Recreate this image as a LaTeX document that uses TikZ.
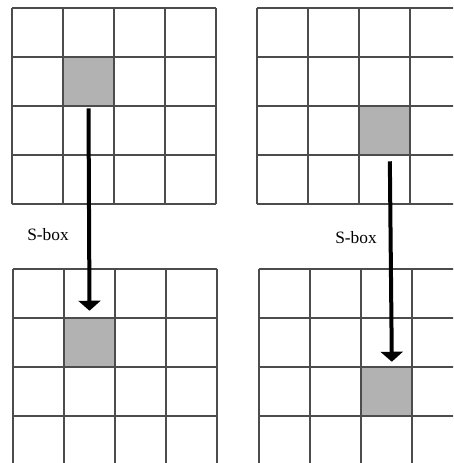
\documentclass[tikz,border=0pt]{standalone}
\usepackage{fontspec}
\setmainfont{Liberation Serif}
\usetikzlibrary{arrows.meta,positioning}
\colorlet{gridgray}{black!70}
\colorlet{cellgray}{gray!60}

\begin{document}
\begin{tikzpicture}[x=0.75pt,y=-0.75pt,
  gridline/.style={draw=gridgray,line width=1.1pt},
  hotcell/.style={fill=cellgray,inner sep=0pt,minimum width=38.25pt,minimum height=36.75pt},
  flow/.style={line width=3pt,-{Triangle[width=16.5pt,length=7.5pt]}},
  lbl/.style={font=\fontsize{13}{15}\selectfont}]
\useasboundingbox (0,0) rectangle (453,463);
\clip (0,0) rectangle (453,463);
% top left state, byte (1,1)
\begin{scope}[shift={(12,8)}]
  \node[hotcell] (inL) at (76.5,73.5) {};
  \foreach \i in {0,...,4} {
    \draw[gridline] (\i*51,0) -- (\i*51,196);
    \draw[gridline] (0,\i*49) -- (204,\i*49);
  }
\end{scope}
% top right state, byte (2,2)
\begin{scope}[shift={(257,8)}]
  \node[hotcell] (inR) at (127.5,122.5) {};
  \foreach \i in {0,...,4} {
    \draw[gridline] (\i*51,0) -- (\i*51,196);
    \draw[gridline] (0,\i*49) -- (204,\i*49);
  }
\end{scope}
% bottom left state
\begin{scope}[shift={(13,269)}]
  \node[hotcell] (outL) at (76.5,73.5) {};
  \foreach \i in {0,...,4} {
    \draw[gridline] (\i*51,0) -- (\i*51,196);
    \draw[gridline] (0,\i*49) -- (204,\i*49);
  }
\end{scope}
% bottom right state
\begin{scope}[shift={(259,269)}]
  \node[hotcell] (outR) at (127.5,122.5) {};
  \foreach \i in {0,...,4} {
    \draw[gridline] (\i*51,0) -- (\i*51,196);
    \draw[gridline] (0,\i*49) -- (204,\i*49);
  }
\end{scope}
% substitution arrows
\draw[flow] ([yshift=-1.5pt]inL.south) -- ([yshift=5.25pt]outL.north);
\draw[flow] ([xshift=4pt,yshift=-4.5pt]inR.south) -- ([xshift=4pt,yshift=3.75pt]outR.north);
\node[lbl] (sboxL) at (48,235) {S-box};
\node[lbl] (sboxR) at (356,238) {S-box};
\end{tikzpicture}
\end{document}
